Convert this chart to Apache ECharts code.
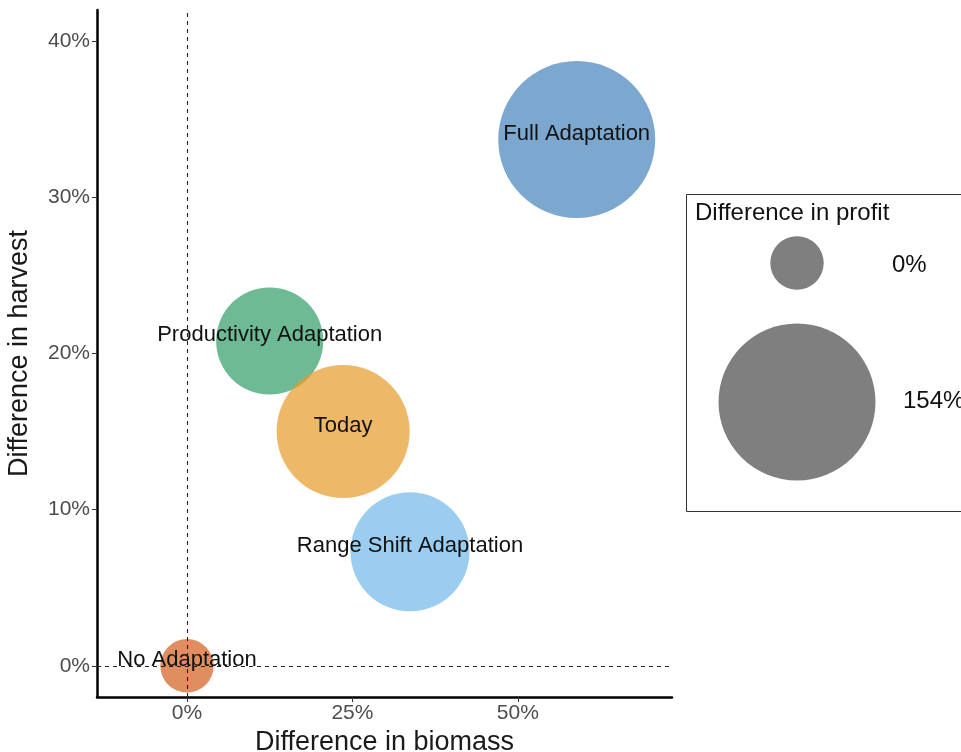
<!DOCTYPE html>
<html>
<head>
<meta charset="utf-8">
<script src="https://cdn.jsdelivr.net/npm/echarts@6/dist/echarts.min.js"></script>
<style>html,body{margin:0;padding:0;background:#fff;}#c{width:961px;height:752px;}</style>
</head>
<body>
<div id="c"></div>
<script>
var scenarios = ['Full Adaptation', 'Productivity Adaptation', 'Today', 'Range Shift Adaptation', 'No Adaptation'];
var biomass = [58.9, 12.5, 23.6, 33.7, 0];
var harvest = [33.7, 20.8, 15.0, 7.3, 0];
var profit = [154, 61, 105, 80, 0];
var xTicks = [0, 25, 50];
var yTicks = [0, 10, 20, 30, 40];
var legendBreaks = [0, 154];

var colors = ['rgba(69,131,188,0.7)', 'rgba(49,156,102,0.7)', 'rgba(229,155,42,0.7)', 'rgba(111,184,234,0.7)', 'rgba(211,92,27,0.7)'];
var FONT = '"Liberation Sans", Arial, sans-serif';

function radius(v) {
  var r0 = 26.7, r1 = 78.5;
  return Math.sqrt(r0 * r0 + (r1 * r1 - r0 * r0) * v / 154);
}

var data = scenarios.map(function (n, i) {
  return {
    name: n,
    value: [biomass[i], harvest[i], profit[i]],
    itemStyle: { color: colors[i], opacity: 1 }
  };
});

var chart = echarts.init(document.getElementById('c'), null, { renderer: 'canvas' });
chart.setOption({
  backgroundColor: '#fff',
  animation: false,
  grid: { left: 97, right: 289, top: 10, bottom: 55, containLabel: false, outerBoundsMode: 'none' },
  xAxis: {
    type: 'value', min: -13.6, max: 73.3,
    name: 'Difference in biomass', nameLocation: 'middle', nameGap: 32,
    nameTextStyle: { fontSize: 27, color: '#1a1a1a', fontFamily: FONT },
    splitLine: { show: false },
    axisLine: { show: true, onZero: false, lineStyle: { color: '#000', width: 2.5 } },
    axisTick: { show: true, length: 5, customValues: xTicks, lineStyle: { color: '#333' } },
    axisLabel: { customValues: xTicks, formatter: function (v) { return v + '%'; }, fontSize: 21, color: '#4d4d4d', fontFamily: FONT, margin: 6 }
  },
  yAxis: {
    type: 'value', min: -2, max: 42,
    name: 'Difference in harvest', nameLocation: 'middle', nameGap: 64,
    nameTextStyle: { fontSize: 27, color: '#1a1a1a', fontFamily: FONT },
    splitLine: { show: false },
    axisLine: { show: true, onZero: false, lineStyle: { color: '#000', width: 2.5 } },
    axisTick: { show: true, length: 5, customValues: yTicks, lineStyle: { color: '#333' } },
    axisLabel: { customValues: yTicks, formatter: function (v) { return v + '%'; }, fontSize: 21, color: '#4d4d4d', fontFamily: FONT, margin: 7 }
  },
  series: [{
    type: 'scatter',
    data: data,
    itemStyle: { opacity: 1 },
    symbolSize: function (val) { return 2 * radius(val[2]); },
    label: {
      show: true, position: 'inside',
      formatter: function (p) { return p.name; },
      fontSize: 22, color: '#111', fontFamily: FONT
    },
    labelLayout: { hideOverlap: false, dy: -6 },
    markLine: {
      silent: true, symbol: 'none', label: { show: false },
      lineStyle: { color: '#222', type: [4, 4], width: 1.1, opacity: 1 },
      data: [{ xAxis: 0 }, { yAxis: 0 }]
    }
  }],
  graphic: [
    { type: 'rect', shape: { x: 686.5, y: 194.5, width: 320, height: 317 }, style: { fill: '#fff', stroke: '#333', lineWidth: 1 }, z: 1 },
    { type: 'text', x: 695, y: 213, style: { text: 'Difference in profit', fontSize: 24, fill: '#111', fontFamily: FONT, textVerticalAlign: 'middle' }, z: 2 },
    { type: 'circle', shape: { cx: 797, cy: 263, r: radius(legendBreaks[0]) }, style: { fill: '#7f7f7f' }, z: 2 },
    { type: 'circle', shape: { cx: 797, cy: 402, r: radius(legendBreaks[1]) }, style: { fill: '#7f7f7f' }, z: 2 },
    { type: 'text', x: 892, y: 265, style: { text: legendBreaks[0] + '%', fontSize: 24, fill: '#111', fontFamily: FONT, textVerticalAlign: 'middle' }, z: 2 },
    { type: 'text', x: 903, y: 401, style: { text: legendBreaks[1] + '%', fontSize: 24, fill: '#111', fontFamily: FONT, textVerticalAlign: 'middle' }, z: 2 }
  ]
});
</script>
</body>
</html>
